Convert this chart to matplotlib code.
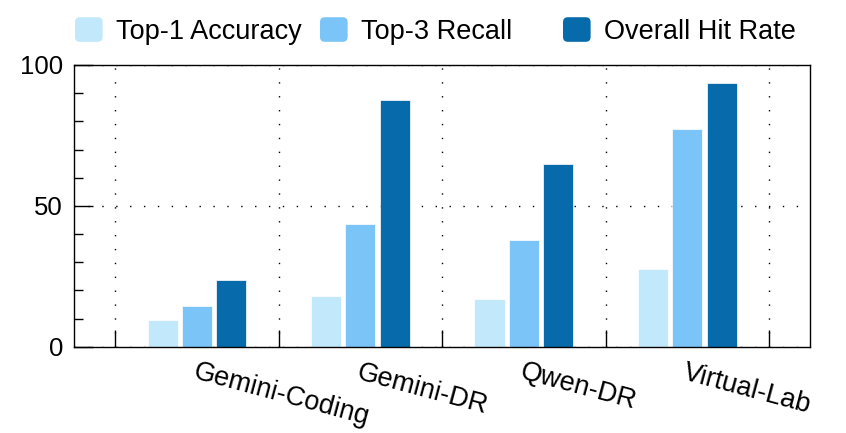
import numpy as np
import matplotlib
matplotlib.use("Agg")
import matplotlib.pyplot as plt
from matplotlib.patches import FancyBboxPatch, Patch
from matplotlib.legend_handler import HandlerPatch

models = ["Gemini-Coding", "Gemini-DR", "Qwen-DR", "Virtual-Lab"]
series_names = ["Top-1 Accuracy", "Top-3 Recall", "Overall Hit Rate"]
top1 = [9.5, 18.0, 17.0, 27.6]
top3 = [14.6, 43.7, 38.0, 77.2]
overall = [23.7, 87.5, 65.0, 93.7]
colors = ["#c2e8fb", "#7ac4f8", "#066aab"]


class RoundHandler(HandlerPatch):
    def create_artists(self, legend, orig_handle, xdescent, ydescent,
                       width, height, fontsize, trans):
        p = FancyBboxPatch((-xdescent, -ydescent), width, height,
                           boxstyle="round,pad=0,rounding_size=3.5",
                           facecolor=orig_handle.get_facecolor(),
                           edgecolor="none", transform=trans)
        return [p]


plt.rcParams["font.family"] = ["Liberation Sans", "DejaVu Sans"]

fig = plt.figure(figsize=(8.46, 4.33), dpi=100)
ax = fig.add_axes([0.0878, 0.1993, 0.8696, 0.6506])

x = np.arange(len(models))
pitch = 0.21
width = 0.184
for i, (vals, c) in enumerate(zip([top1, top3, overall], colors)):
    ax.bar(x + (i - 1) * pitch, vals, width, color=c,
           edgecolor="white", linewidth=0.5, zorder=3)

ax.set_xlim(-0.75, 3.75)
ax.set_ylim(0, 100)

ax.set_xticks(x)
ax.set_xticklabels(models, rotation=-15, ha="left", va="top",
                   rotation_mode="anchor", fontsize=19.5)
ax.set_xticks(np.arange(-0.5, 4, 1), minor=True)
ax.tick_params(axis="x", which="major", length=0, pad=9)
ax.tick_params(axis="x", which="minor", direction="in", length=12.5,
               width=1, bottom=True, top=False)

ax.set_yticks([0, 50, 100])
ax.set_yticks(np.arange(0, 101, 10), minor=True)
ax.tick_params(axis="y", which="major", direction="in", length=13.5,
               width=1, labelsize=18.5, pad=8, right=False)
ax.tick_params(axis="y", which="minor", direction="in", length=6.5,
               width=1, right=False)

dots = (0, (1, 9))
ax.grid(which="minor", axis="x", color="black", linestyle=dots, linewidth=1.0)
ax.grid(which="major", axis="y", color="black", linestyle=dots, linewidth=1.0)
ax.set_axisbelow(True)

for s in ax.spines.values():
    s.set_linewidth(1.0)
    s.set_zorder(4)

# legend entries sit in equal-width columns
legend_x = [75, 320, 563]
for name, c, lx in zip(series_names, colors, legend_x):
    leg = fig.legend([Patch(facecolor=c)], [name], loc="center left",
                     bbox_to_anchor=(lx / 846, 1 - 31 / 433),
                     frameon=False, fontsize=19.5, borderpad=0,
                     borderaxespad=0, handlelength=1.02, handleheight=1.02,
                     handletextpad=0.48,
                     handler_map={Patch: RoundHandler()})

fig.savefig("out.png", dpi=100)
